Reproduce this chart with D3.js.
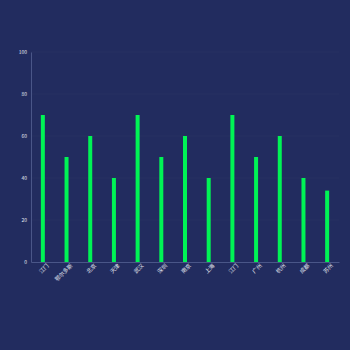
<!DOCTYPE html>
<html>
<head>
<meta charset="utf-8">
<script src="https://d3js.org/d3.v7.min.js"></script>
<style>
html, body { margin: 0; padding: 0; background: #222c5f; }
svg { display: block; }
text { font-family: "Noto Sans CJK SC", "Noto Sans", sans-serif; }
</style>
</head>
<body>
<svg id="chart" width="350" height="350"></svg>
<script>
const categories = ['江门', '鄂尔多斯', '北京', '天津', '武汉', '深圳', '南京', '上海', '江门', '广州', '杭州', '成都', '苏州'];
const values = [70, 50, 60, 40, 70, 50, 60, 40, 70, 50, 60, 40, 34];
const yTicks = [0, 20, 40, 60, 80, 100];

const margin = { top: 52, right: 11, bottom: 88, left: 31 };
const width = 350 - margin.left - margin.right;
const height = 350 - margin.top - margin.bottom;

const svg = d3.select('#chart');
const g = svg.append('g').attr('transform', `translate(${margin.left},${margin.top})`);

const x = d3.scaleBand().domain(d3.range(categories.length)).range([0, width]);
const y = d3.scaleLinear().domain([0, 100]).range([height, 0]);

// grid
g.selectAll('.grid')
  .data(yTicks.slice(1))
  .enter()
  .append('line')
  .attr('x1', 0)
  .attr('x2', width)
  .attr('y1', d => y(d))
  .attr('y2', d => y(d))
  .attr('stroke', '#263163')
  .attr('stroke-width', 1);

// bars
const barW = 4;
g.selectAll('rect')
  .data(values)
  .enter()
  .append('rect')
  .attr('x', (d, i) => x(i) + x.bandwidth() / 2 - barW / 2)
  .attr('y', d => y(d))
  .attr('width', barW)
  .attr('height', d => height - y(d))
  .attr('fill', '#00f455');

// y axis
const yAxis = g.append('g')
  .call(d3.axisLeft(y).tickValues(yTicks).tickSize(0).tickPadding(4));
yAxis.select('.domain').attr('stroke', '#4a5688');
yAxis.selectAll('text').attr('fill', '#e4e6ef').style('font-size', '5px');

// x axis
const xAxis = g.append('g')
  .attr('transform', `translate(0,${height})`)
  .call(d3.axisBottom(x).tickFormat(i => categories[i]).tickSize(0).tickPadding(4));
xAxis.select('.domain').attr('stroke', '#4a5688');
xAxis.selectAll('text')
  .attr('fill', '#e4e6ef')
  .style('font-size', '5.5px')
  .style('text-anchor', 'end')
  .attr('dx', '0.3em')
  .attr('dy', '0.6em')
  .attr('transform', 'rotate(-45)');
</script>
</body>
</html>
